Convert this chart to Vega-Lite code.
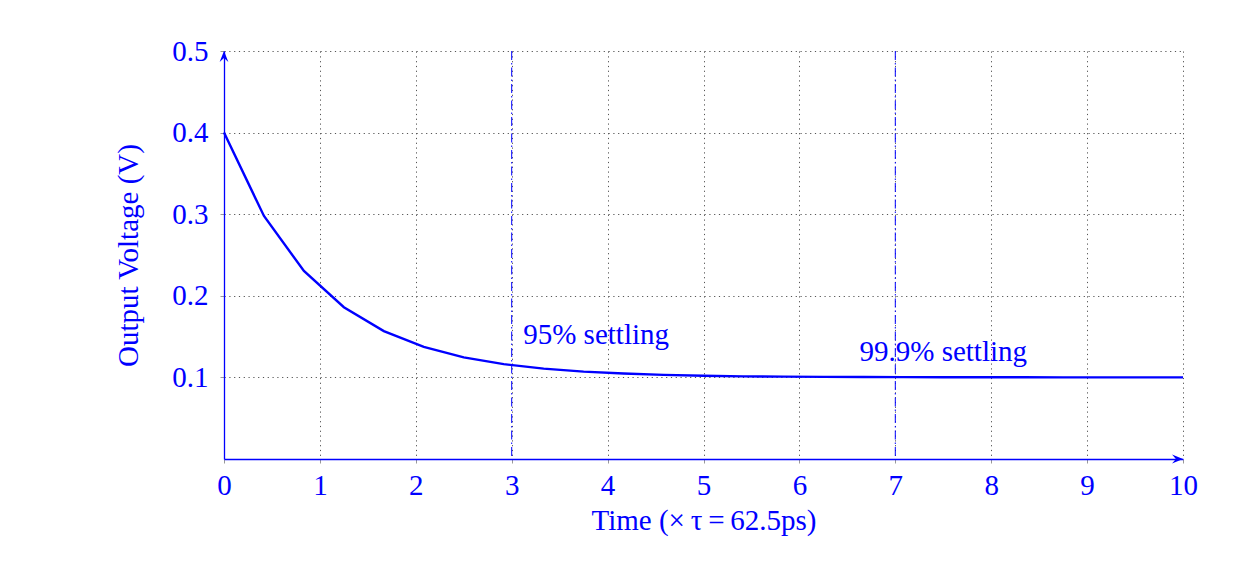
{
  "$schema": "https://vega.github.io/schema/vega-lite/v6.json",
  "autosize": "none",
  "width": 959,
  "height": 408,
  "padding": {"left": 224, "top": 51, "right": 68, "bottom": 109},
  "background": "white",
  "config": {
    "view": {"stroke": null},
    "font": "Liberation Serif",
    "axis": {
      "labelFont": "Liberation Serif",
      "titleFont": "Liberation Serif",
      "labelColor": "#0000ff",
      "titleColor": "#0000ff",
      "labelFontSize": 29,
      "titleFontSize": 29,
      "titleFontWeight": "normal",
      "labelFlush": false,
      "domainColor": "#0000ff",
      "domainWidth": 1.3,
      "tickColor": "#999999",
      "tickSize": 4,
      "tickWidth": 1,
      "grid": true,
      "gridColor": "#555555",
      "gridDash": [1.2, 3.6],
      "gridWidth": 1,
      "gridOpacity": 1
    }
  },
  "datasets": {
    "curve": [
      {"t": 0, "v": 0.4},
      {"t": 0.4167, "v": 0.2978},
      {"t": 0.8333, "v": 0.2304},
      {"t": 1.25, "v": 0.186},
      {"t": 1.6667, "v": 0.1567},
      {"t": 2.0833, "v": 0.1374},
      {"t": 2.5, "v": 0.1246},
      {"t": 2.9167, "v": 0.1162},
      {"t": 3.3333, "v": 0.1107},
      {"t": 3.75, "v": 0.1071},
      {"t": 4.1667, "v": 0.1047},
      {"t": 4.5833, "v": 0.1031},
      {"t": 5, "v": 0.102},
      {"t": 5.4167, "v": 0.1013},
      {"t": 5.8333, "v": 0.1009},
      {"t": 6.25, "v": 0.1006},
      {"t": 6.6667, "v": 0.1004},
      {"t": 7.0833, "v": 0.1003},
      {"t": 7.5, "v": 0.1002},
      {"t": 7.9167, "v": 0.1001},
      {"t": 8.3333, "v": 0.1001},
      {"t": 8.75, "v": 0.1},
      {"t": 9.1667, "v": 0.1},
      {"t": 9.5833, "v": 0.1},
      {"t": 10, "v": 0.1}
    ],
    "markers": [{"t": 3}, {"t": 7}],
    "labels": [
      {"t": 3.12, "v": 0.152, "label": "95% settling", "pos": "left"},
      {"t": 7.5, "v": 0.131, "label": "99.9% settling", "pos": "center"}
    ],
    "arrows": [
      {"t": 10, "v": 0, "dir": "right"},
      {"t": 0, "v": 0.5, "dir": "up"}
    ]
  },
  "layer": [
    {
      "data": {"name": "curve"},
      "mark": {"type": "line", "color": "#0000ff", "strokeWidth": 2.4, "clip": false},
      "encoding": {
        "x": {
          "field": "t", "type": "quantitative",
          "scale": {"domain": [0, 10], "nice": false, "zero": false},
          "axis": {
            "values": [0, 1, 2, 3, 4, 5, 6, 7, 8, 9, 10],
            "format": "d",
            "title": "Time (×\u2009τ\u2009=\u200962.5ps)",
            "labelPadding": 8,
            "titlePadding": 6
          }
        },
        "y": {
          "field": "v", "type": "quantitative",
          "scale": {"domain": [0, 0.5], "nice": false, "zero": false},
          "axis": {
            "values": [0.1, 0.2, 0.3, 0.4, 0.5],
            "format": ".1f",
            "title": "Output Voltage (V)",
            "labelPadding": 12,
            "titlePadding": 28
          }
        }
      }
    },
    {
      "data": {"name": "markers"},
      "mark": {"type": "rule", "color": "#0000ff", "strokeWidth": 1, "strokeDash": [9, 3, 1.5, 3]},
      "encoding": {
        "x": {"field": "t", "type": "quantitative"}
      }
    },
    {
      "data": {"name": "labels"},
      "transform": [{"filter": "datum.pos == 'left'"}],
      "mark": {"type": "text", "color": "#0000ff", "font": "Liberation Serif", "fontSize": 29, "align": "left", "baseline": "middle"},
      "encoding": {
        "x": {"field": "t", "type": "quantitative"},
        "y": {"field": "v", "type": "quantitative"},
        "text": {"field": "label"}
      }
    },
    {
      "data": {"name": "labels"},
      "transform": [{"filter": "datum.pos == 'center'"}],
      "mark": {"type": "text", "color": "#0000ff", "font": "Liberation Serif", "fontSize": 29, "align": "center", "baseline": "middle"},
      "encoding": {
        "x": {"field": "t", "type": "quantitative"},
        "y": {"field": "v", "type": "quantitative"},
        "text": {"field": "label"}
      }
    },
    {
      "data": {"name": "arrows"},
      "transform": [{"filter": "datum.dir == 'right'"}],
      "mark": {"type": "point", "filled": true, "color": "#0000ff", "opacity": 1, "size": 120, "clip": false, "shape": "M0,0 L-2,-0.8 L-1.3,0 L-2,0.8 Z"},
      "encoding": {
        "x": {"field": "t", "type": "quantitative"},
        "y": {"field": "v", "type": "quantitative"}
      }
    },
    {
      "data": {"name": "arrows"},
      "transform": [{"filter": "datum.dir == 'up'"}],
      "mark": {"type": "point", "filled": true, "color": "#0000ff", "opacity": 1, "size": 120, "clip": false, "shape": "M0,0 L-0.8,2 L0,1.3 L0.8,2 Z"},
      "encoding": {
        "x": {"field": "t", "type": "quantitative"},
        "y": {"field": "v", "type": "quantitative"}
      }
    }
  ]
}
